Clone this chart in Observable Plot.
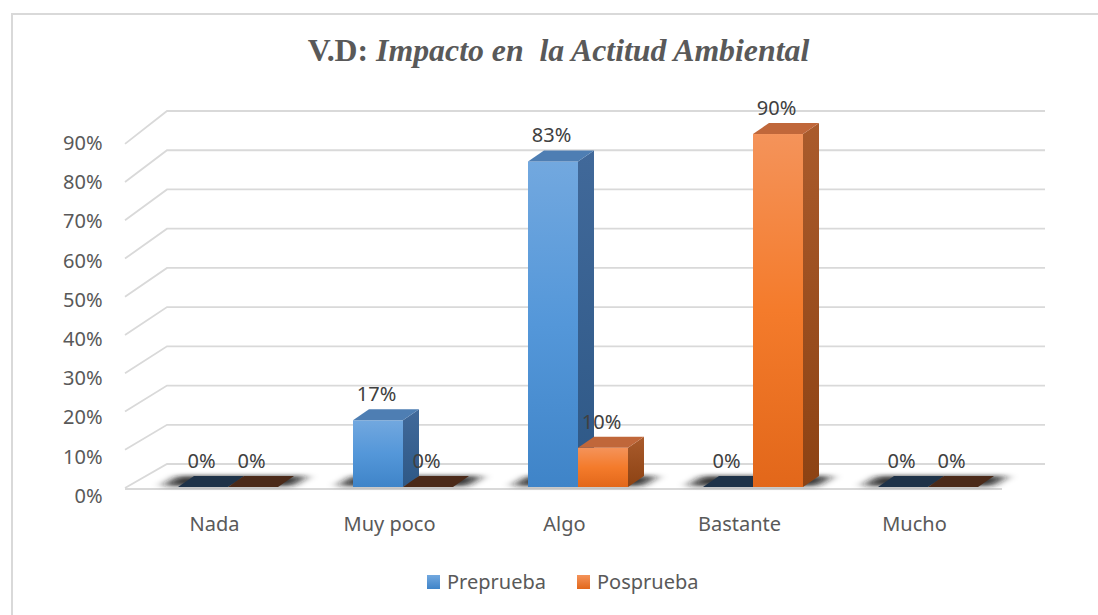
<!DOCTYPE html>
<html>
<head>
<meta charset="utf-8">
<script src="https://cdn.jsdelivr.net/npm/d3@7"></script>
<script src="https://cdn.jsdelivr.net/npm/@observablehq/plot@0.6"></script>
<style>
  body { margin: 0; background: #fff; }
  #wrap { position: relative; width: 1098px; height: 615px; overflow: hidden; background: #fff; }
  #frame { position: absolute; left: 11px; top: 13px; width: 1100px; height: 620px; border: 2px solid #d9d9d9; box-sizing: border-box; }
  #title { position: absolute; top: 32px; left: 0; width: 1117px; text-align: center; font-family: "Liberation Serif", "Times New Roman", serif; font-weight: bold; font-size: 31.8px; color: #595959; white-space: pre; line-height: 38px; }
  #title i { font-style: italic; }
  #chart { position: absolute; left: 0; top: 90px; }
  #legend { position: absolute; top: 568px; left: 427px; display: flex; align-items: center; font-family: "Noto Sans", sans-serif; font-size: 20px; color: #595959; line-height: 28px; }
  .sw { width: 13px; height: 14px; display: inline-block; margin-right: 7px; }
  .item { display: flex; align-items: center; margin-right: 31px; }
</style>
</head>
<body>
<div id="wrap">
  <div id="frame"></div>
  <div id="title">V.D: <i>Impacto en  la Actitud Ambiental</i></div>
  <div id="chart"></div>
  <div id="legend"></div>
</div>
<script>
// ---- data ----
const categories = ["Nada", "Muy poco", "Algo", "Bastante", "Mucho"];
const seriesNames = ["Preprueba", "Posprueba"];
const preprueba = [0, 17, 83, 0, 0];
const posprueba = [0, 0, 10, 90, 0];
const yTicks = [0, 10, 20, 30, 40, 50, 60, 70, 80, 90];

const rows = categories.flatMap((c, i) => [
  {cat: c, series: seriesNames[0], s: 0, value: preprueba[i]},
  {cat: c, series: seriesNames[1], s: 1, value: posprueba[i]}
]);
const preRows = rows.filter(d => d.s === 0);
const posRows = rows.filter(d => d.s === 1);

// ---- style ----
const DX = 16, DY = 11;
const topFill = ["#4e7eb3", "#c0673a"];
const zeroFill = ["#1f3349", "#4b2a19"];

function bw(x) { return typeof x.bandwidth === "function" ? x.bandwidth() : (x.bandwidth ?? 100); }

const defs = () => {
  const svg = d3.create("svg:defs");
  const mk = (id, stops) => {
    const g = svg.append("linearGradient").attr("id", id).attr("x1", 0).attr("y1", 0).attr("x2", 0).attr("y2", 1);
    stops.forEach(([o, c]) => g.append("stop").attr("offset", o).attr("stop-color", c));
  };
  mk("front0", [[0, "#72a8df"], [0.5, "#5497d9"], [1, "#3f84c8"]]);
  mk("front1", [[0, "#f4935a"], [0.5, "#f47b2b"], [1, "#e2671a"]]);
  mk("side0", [[0, "#41699a"], [1, "#2e5886"]]);
  mk("side1", [[0, "#aa5b2c"], [1, "#8c4213"]]);
  const f = svg.append("filter").attr("id", "blur").attr("filterUnits", "userSpaceOnUse")
    .attr("x", 0).attr("y", 0).attr("width", 1098).attr("height", 455);
  f.append("feGaussianBlur").attr("stdDeviation", "6 2");
  return svg.node();
};

const grid = (index, {y}, values, {marginLeft, width, marginRight}) => {
  const g = d3.create("svg:g").attr("fill", "none").attr("stroke", "#d9d9d9").attr("stroke-width", 1.8);
  const y0 = y(0);
  const xF = marginLeft - 14, xB = xF + 42, xE = width - marginRight + 29, xFE = xE - 43;
  for (const v of yTicks) {
    const yb = y(v) - 23;
    const yf = y0 + (y(v) - y0) * 0.975 + 1;
    g.append("path").attr("d", `M${xF},${yf}L${xB},${yb}L${xE},${yb}`);
  }
  g.append("path").attr("d", `M${xF},${y0 + 2}L${xFE},${y0 + 2}`);
  return g.node();
};

const shadows = (index, {x, y}) => {
  const g = d3.create("svg:g");
  const y0 = y(0), w = bw(x);
  for (const c of categories) {
    const xs = x(c) - 16, xe = x(c) + w + 14;
    g.append("path")
      .attr("d", `M${xs},${y0 - 1}L${xe},${y0 - 1}L${xe + DX},${y0 - DY}L${xs + DX},${y0 - DY}Z`)
      .attr("fill", "#1a1a1a").attr("fill-opacity", 0.85).attr("filter", "url(#blur)");
  }
  return g.node();
};

const faces = (data) => (index, {x, y}) => {
  const g = d3.create("svg:g");
  const y0 = y(0), w = bw(x);
  for (const d of data) {
    const xs = x(d.cat) + d.s * w / 2, xe = xs + w / 2, yt = y(d.value);
    if (d.value > 0) {
      g.append("path").attr("d", `M${xe},${yt}L${xe + DX},${yt - DY}L${xe + DX},${y0 - DY}L${xe},${y0}Z`).attr("fill", `url(#side${d.s})`);
      g.append("path").attr("d", `M${xs},${yt}L${xe},${yt}L${xe + DX},${yt - DY}L${xs + DX},${yt - DY}Z`).attr("fill", topFill[d.s]);
    } else {
      g.append("path").attr("d", `M${xs},${y0}L${xe},${y0}L${xe + DX},${y0 - DY}L${xs + DX},${y0 - DY}Z`).attr("fill", zeroFill[d.s]);
    }
  }
  return g.node();
};

const font = "Noto Sans";
const chart = Plot.plot({
  width: 1098,
  height: 455,
  marginLeft: 139,
  marginRight: 82,
  marginTop: 4.8,
  marginBottom: 58,
  style: {fontFamily: font, background: "transparent", overflow: "visible"},
  x: {domain: categories, paddingInner: 0.43, paddingOuter: 0.215, axis: null},
  y: {domain: [0, 100], axis: null},
  marks: [
    defs,
    grid,
    shadows,
    Plot.barY(preRows.filter(d => d.value > 0), {x: "cat", y: "value", fill: "url(#front0)", insetRight: 50}),
    faces(preRows),
    Plot.barY(posRows.filter(d => d.value > 0), {x: "cat", y: "value", fill: "url(#front1)", insetLeft: 50}),
    faces(posRows),
    Plot.axisY(yTicks, {tickFormat: d => d + "%", tickSize: 0, tickPadding: 37, dy: 9, fontSize: 20, color: "#595959", label: null}),
    Plot.text(categories, {x: d => d, frameAnchor: "bottom", dy: 37, dx: -14, fontSize: 20, fill: "#595959", lineAnchor: "middle"}),
    Plot.text(preRows, {x: "cat", y: "value", text: d => d.value + "%", dx: -27, dy: -26, fontSize: 20, fill: "#404040", lineAnchor: "middle"}),
    Plot.text(posRows, {x: "cat", y: "value", text: d => d.value + "%", dx: 23, dy: -26, fontSize: 20, fill: "#404040", lineAnchor: "middle"})
  ]
});
document.getElementById("chart").appendChild(chart);

// legend
const legendColors = ["linear-gradient(#72a8df,#3f84c8)", "linear-gradient(#f4935a,#e2671a)"];
const legend = d3.select("#legend");
seriesNames.forEach((s, i) => {
  const it = legend.append("div").attr("class", "item");
  it.append("span").attr("class", "sw").style("background", legendColors[i]);
  it.append("span").text(s);
});
</script>
</body>
</html>
